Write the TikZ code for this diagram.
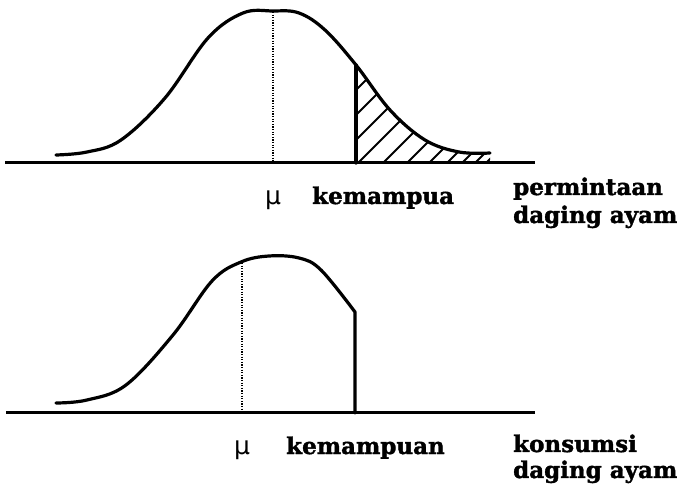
\documentclass[tikz,border=0pt]{standalone}
\usepackage{fontspec}
\newfontfamily\labelfamily[FakeBold=1.6]{DejaVu Serif Bold}
\newfontfamily\mufamily{DejaVu Sans}
\newcommand{\lblfont}{\labelfamily\fontsize{23}{26}\selectfont}
\newcommand{\mufont}{\mufamily\fontsize{25}{26}\selectfont}

\begin{document}
\begin{tikzpicture}[
            x=1pt, y=-1pt,
            curve/.style={line width=3.2pt, line join=round, line cap=round},
            axis/.style={line width=3pt},
            meanline/.style={line width=2pt, dash pattern=on 1.3pt off 1.3pt},
            hatch/.style={line width=2pt},
            lbl/.style={font=\lblfont, anchor=base west, inner sep=0pt},
            mu/.style={font=\mufont, anchor=base, inner sep=0pt}
        ]
            \useasboundingbox (0,0) rectangle (678,486);
            % atas: permintaan
            \begin{scope}
                \clip (356,0) rectangle (540,163);
                \clip plot[smooth, tension=0.6] coordinates {(56,155) (87,152) (121,140) (165,98) (208,38) (243,13) (273,11) (299,13) (325,30) (356,65) (390,110) (425,140) (459,152) (490,153)} -- (490,163) -- (56,163) -- cycle;
                \foreach \x in {283,308,333,358,383,407,429,447,462,475,486}
                    \draw[hatch] (\x,163) -- ++(100,-100);
            \end{scope}
            \draw[curve] plot[smooth, tension=0.6] coordinates {(56,155) (87,152) (121,140) (165,98) (208,38) (243,13) (273,11) (299,13) (325,30) (356,65) (390,110) (425,140) (459,152) (490,153)};
            \draw[meanline] (273,12) -- (273,163);
            \draw[curve] (356,65) -- (356,163);
            \draw[axis] (5,163) -- (535,163);
            \node[mu] (mutop) at (273,205) {μ};
            \node[lbl] (captop) at (312,204) {kemampua};
            \node[lbl] (dmdtop) at (513,195) {permintaan};
            \node[lbl] (dmdtopb) at (513,223) {daging ayam};
            % bawah: konsumsi
            \draw[curve] plot[smooth, tension=0.6] coordinates {(56,403) (87,400) (126,385) (173,335) (212,281) (241,262) (269,256) (299,258) (321,270) (355,312)} -- (355,413);
            \draw[meanline] (242,263) -- (242,413);
            \draw[axis] (6,413) -- (535,413);
            \node[mu] (mubot) at (242,455) {μ};
            \node[lbl] (capbot) at (286,454) {kemampuan};
            \node[lbl] (conbot) at (513,452) {konsumsi};
            \node[lbl] (conbotb) at (513,478) {daging ayam};
        \end{tikzpicture}
\end{document}
